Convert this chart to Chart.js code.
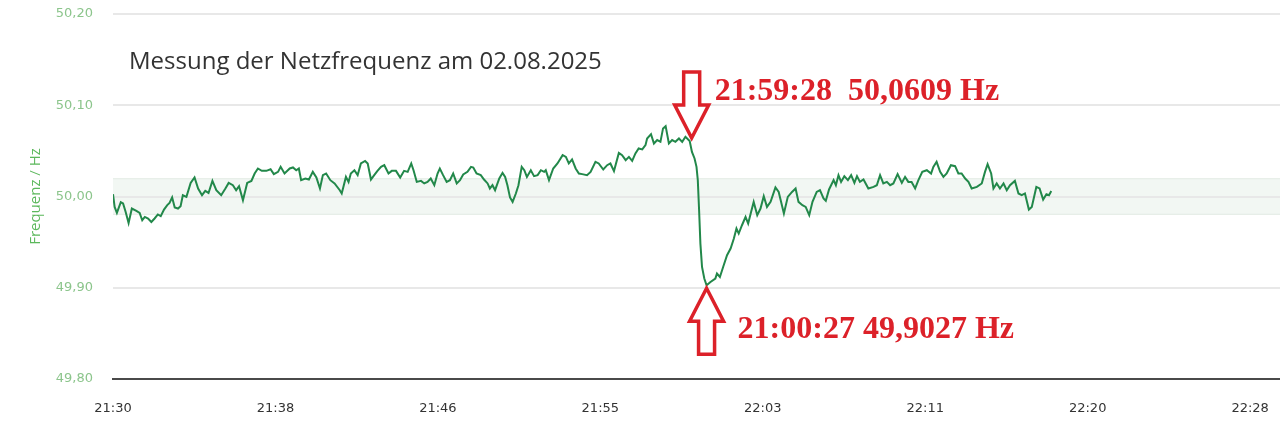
<!DOCTYPE html>
<html lang="de">
<head>
  <meta charset="utf-8">
  <title>Messung der Netzfrequenz am 02.08.2025</title>
  <script src="https://cdn.jsdelivr.net/npm/chart.js@4.4.1/dist/chart.umd.min.js"></script>
  <style>
    html, body { margin: 0; padding: 0; background: #fff; overflow: hidden; }
  </style>
</head>
<body>
  <canvas id="chart-freq" width="1280" height="424"></canvas>

  <script>
    // Sekunden seit 21:30:00
    var secs = [
      0, 5, 12, 24, 31, 39, 48, 58, 72, 82,
      90, 98, 108, 118, 128, 138, 147, 157, 167, 174,
      182, 190, 200, 208, 215, 226, 239, 251, 262, 274,
      284, 294, 306, 318, 333, 346, 356, 369, 379, 388,
      400, 413, 426, 436, 446, 458, 472, 485, 495, 508,
      516, 528, 544, 554, 564, 572, 579, 592, 603, 615,
      626, 637, 646, 656, 669, 682, 698, 704, 717, 725,
      732, 743, 753, 763, 776, 784, 794, 804, 814, 825,
      835, 848, 858, 871, 884, 896, 907, 918, 925, 935,
      948, 958, 968, 978, 989, 999, 1006, 1016, 1027, 1037,
      1047, 1058, 1068, 1078, 1091, 1102, 1109, 1119, 1132, 1142,
      1153, 1160, 1168, 1176, 1189, 1199, 1207, 1214, 1222, 1230,
      1240, 1248, 1258, 1266, 1274, 1286, 1296, 1307, 1317, 1327,
      1332, 1342, 1355, 1368, 1384, 1394, 1403, 1413, 1424, 1434,
      1444, 1459, 1470, 1485, 1495, 1509, 1521, 1531, 1542, 1557,
      1567, 1578, 1588, 1598, 1608, 1618, 1629, 1639, 1644, 1656,
      1665, 1675, 1685, 1693, 1701, 1711, 1721, 1731, 1742, 1752,
      1762, 1775, 1782, 1790, 1796, 1800, 1804, 1808, 1813, 1820,
      1827, 1839, 1854, 1859, 1868, 1878, 1890, 1901, 1911, 1919,
      1926, 1936, 1947, 1955, 1964, 1972, 1983, 1993, 2003, 2013,
      2024, 2039, 2049, 2065, 2077, 2090, 2101, 2110, 2122, 2132,
      2143, 2153, 2166, 2176, 2187, 2194, 2204, 2218, 2225, 2233,
      2241, 2251, 2262, 2272, 2282, 2290, 2299, 2310, 2325, 2341,
      2351, 2361, 2371, 2382, 2392, 2402, 2415, 2428, 2438, 2448,
      2458, 2469, 2479, 2491, 2505, 2518, 2525, 2535, 2546, 2556,
      2566, 2579, 2592, 2602, 2612, 2623, 2633, 2643, 2659, 2674,
      2684, 2692, 2703, 2710, 2720, 2730, 2741, 2751, 2761, 2776,
      2787, 2797, 2807, 2819, 2828, 2842, 2852, 2863, 2873, 2881, 2888
    ];

    // Frequenz in Hz
    var freqs = [
      50.0025, 49.9886, 49.9820, 49.9937, 49.9923, 49.9831, 49.9710, 49.9868, 49.9842, 49.9820,
      49.9740, 49.9776, 49.9759, 49.9721, 49.9759, 49.9803, 49.9784, 49.9857, 49.9905, 49.9930,
      49.9989, 49.9879, 49.9868, 49.9894, 50.0014, 49.9996, 50.0149, 50.0208, 50.0088, 50.0014,
      50.0061, 50.0039, 50.0171, 50.0069, 50.0014, 50.0088, 50.0149, 50.0124, 50.0069, 50.0113,
      49.9959, 50.0149, 50.0171, 50.0252, 50.0307, 50.0281, 50.0281, 50.0299, 50.0245, 50.0270,
      50.0325, 50.0252, 50.0307, 50.0318, 50.0288, 50.0307, 50.0179, 50.0197, 50.0186, 50.0270,
      50.0208, 50.0088, 50.0234, 50.0252, 50.0179, 50.0143, 50.0069, 50.0033, 50.0215, 50.0160,
      50.0252, 50.0288, 50.0234, 50.0362, 50.0390, 50.0362, 50.0186, 50.0234, 50.0281, 50.0325,
      50.0343, 50.0252, 50.0281, 50.0281, 50.0208, 50.0281, 50.0270, 50.0362, 50.0288, 50.0160,
      50.0171, 50.0143, 50.0160, 50.0197, 50.0124, 50.0252, 50.0307, 50.0234, 50.0160, 50.0179,
      50.0252, 50.0143, 50.0179, 50.0241, 50.0270, 50.0325, 50.0318, 50.0252, 50.0234, 50.0186,
      50.0143, 50.0088, 50.0124, 50.0069, 50.0197, 50.0259, 50.0215, 50.0124, 49.9989, 49.9941,
      50.0033, 50.0124, 50.0325, 50.0288, 50.0215, 50.0288, 50.0223, 50.0234, 50.0288, 50.0270,
      50.0288, 50.0179, 50.0307, 50.0362, 50.0453, 50.0434, 50.0362, 50.0406, 50.0307, 50.0252,
      50.0245, 50.0234, 50.0270, 50.0380, 50.0362, 50.0296, 50.0343, 50.0362, 50.0278, 50.0478,
      50.0453, 50.0398, 50.0434, 50.0390, 50.0472, 50.0526, 50.0516, 50.0563, 50.0636, 50.0683,
      50.0581, 50.0618, 50.0599, 50.0746, 50.0771, 50.0581, 50.0618, 50.0599, 50.0636, 50.0599,
      50.0654, 50.0609, 50.0489, 50.0417, 50.0325, 50.0179, 49.9850, 49.9484, 49.9228, 49.9101,
      49.9027, 49.9063, 49.9101, 49.9155, 49.9118, 49.9228, 49.9356, 49.9430, 49.9539, 49.9649,
      49.9594, 49.9685, 49.9776, 49.9704, 49.9831, 49.9941, 49.9795, 49.9868, 50.0003, 49.9886,
      49.9941, 50.0099, 50.0050, 49.9814, 49.9996, 50.0050, 50.0088, 49.9941, 49.9905, 49.9886,
      49.9795, 49.9941, 50.0050, 50.0069, 49.9978, 49.9952, 50.0077, 50.0179, 50.0124, 50.0234,
      50.0160, 50.0223, 50.0179, 50.0234, 50.0149, 50.0223, 50.0160, 50.0186, 50.0088, 50.0105,
      50.0124, 50.0234, 50.0143, 50.0160, 50.0124, 50.0143, 50.0245, 50.0149, 50.0215, 50.0160,
      50.0160, 50.0088, 50.0179, 50.0270, 50.0288, 50.0252, 50.0325, 50.0380, 50.0270, 50.0215,
      50.0252, 50.0343, 50.0332, 50.0252, 50.0252, 50.0197, 50.0160, 50.0088, 50.0105, 50.0143,
      50.0270, 50.0354, 50.0252, 50.0088, 50.0143, 50.0088, 50.0143, 50.0069, 50.0124, 50.0171,
      50.0033, 50.0014, 50.0033, 49.9857, 49.9886, 50.0105, 50.0088, 49.9967, 50.0025, 50.0014, 50.0061
    ];

    var xTickSecs = [0, 500, 1000, 1500, 2000, 2500, 3000, 3500];
    var xTickLabels = ['21:30', '21:38', '21:46', '21:55', '22:03', '22:11', '22:20', '22:28'];
    var yTicks = [49.8, 49.9, 50.0, 50.1, 50.2];

    // Toleranzband
    var bandLow = 49.98;
    var bandHigh = 50.02;

    // markierte Punkte
    var markSecs = [1775, 1827];
    var markFreqs = [50.0609, 49.9027];
    var markTexts = ['21:59:28  50,0609 Hz', '21:00:27 49,9027 Hz'];

    var chartTitle = 'Messung der Netzfrequenz am 02.08.2025';
    var red = '#dc2129';

    var bandPlugin = {
      id: 'band',
      beforeDraw: function (chart) {
        var ctx = chart.ctx, a = chart.chartArea, y = chart.scales.y;
        var top = y.getPixelForValue(bandHigh), bot = y.getPixelForValue(bandLow);
        ctx.save();
        ctx.fillStyle = '#f2f7f3';
        ctx.fillRect(a.left, top, a.right - a.left, bot - top);
        ctx.strokeStyle = '#e3ebe5';
        ctx.lineWidth = 1;
        ctx.beginPath();
        ctx.moveTo(a.left, top + 0.5); ctx.lineTo(a.right, top + 0.5);
        ctx.moveTo(a.left, bot - 0.5); ctx.lineTo(a.right, bot - 0.5);
        ctx.stroke();
        ctx.restore();
      }
    };

    function drawArrow(ctx, tx, ty, dir) {
      // dir 1 = nach unten zeigend, -1 = nach oben
      var headW = 34, headH = 33, shaftW = 16, shaftL = 33;
      var yBase = ty - dir * headH;
      var yEnd = yBase - dir * shaftL;
      ctx.save();
      ctx.beginPath();
      ctx.moveTo(tx, ty);
      ctx.lineTo(tx - headW / 2, yBase);
      ctx.lineTo(tx - shaftW / 2, yBase);
      ctx.lineTo(tx - shaftW / 2, yEnd);
      ctx.lineTo(tx + shaftW / 2, yEnd);
      ctx.lineTo(tx + shaftW / 2, yBase);
      ctx.lineTo(tx + headW / 2, yBase);
      ctx.closePath();
      ctx.fillStyle = '#fff';
      ctx.fill();
      ctx.lineWidth = 3.5;
      ctx.strokeStyle = red;
      ctx.lineJoin = 'miter';
      ctx.stroke();
      ctx.restore();
    }

    var notePlugin = {
      id: 'notes',
      afterDraw: function (chart) {
        var ctx = chart.ctx, x = chart.scales.x, y = chart.scales.y;
        ctx.save();
        // Titel
        ctx.font = '24px "Open Sans", sans-serif';
        ctx.fillStyle = '#333';
        ctx.textAlign = 'left';
        ctx.textBaseline = 'alphabetic';
        ctx.fillText(chartTitle, 129, 69);

        ctx.font = 'bold 32px "Liberation Serif", "Times New Roman", serif';
        ctx.fillStyle = red;

        // Maximum vor dem Einbruch
        var px = x.getPixelForValue(markSecs[0]), py = y.getPixelForValue(markFreqs[0]);
        drawArrow(ctx, px + 2, py - 3, 1);
        ctx.fillText(markTexts[0], px + 25, py - 41);

        // Minimum
        px = x.getPixelForValue(markSecs[1]); py = y.getPixelForValue(markFreqs[1]);
        drawArrow(ctx, px, py + 3, -1);
        ctx.fillText(markTexts[1], px + 31, py + 53);
        ctx.restore();
      }
    };

    var points = secs.map(function (s, i) { return { x: s, y: freqs[i] }; });

    new Chart(document.getElementById('chart-freq'), {
      type: 'line',
      data: {
        datasets: [{
          data: points,
          borderColor: '#22884a',
          borderWidth: 2,
          pointRadius: 0,
          tension: 0,
          fill: false
        }]
      },
      options: {
        responsive: false,
        animation: false,
        layout: { padding: { left: 26, top: 14, right: 0, bottom: 0 } },
        plugins: {
          legend: { display: false },
          tooltip: { enabled: false }
        },
        scales: {
          x: {
            type: 'linear',
            min: 0,
            max: 3592,
            afterBuildTicks: function (s) { s.ticks = xTickSecs.map(function (v) { return { value: v }; }); },
            afterFit: function (s) { s.height = 45; s.paddingLeft = 0; s.paddingRight = 0; },
            grid: { display: false, drawTicks: false },
            border: { display: true, color: '#4a4a4a', width: 2 },
            ticks: {
              padding: 22,
              color: '#333',
              maxRotation: 0,
              autoSkip: false,
              font: { family: 'DejaVu Sans', size: 13 },
              callback: function (v, i) { return xTickLabels[i]; }
            }
          },
          y: {
            min: 49.8,
            max: 50.2,
            afterBuildTicks: function (s) { s.ticks = yTicks.map(function (v) { return { value: v }; }); },
            afterFit: function (s) { s.width = 87; s.paddingTop = 0; s.paddingBottom = 0; },
            grid: { color: '#e8e8e8', lineWidth: 2, drawTicks: false },
            border: { display: false },
            ticks: {
              padding: 20,
              color: '#8cc58c',
              font: { family: 'DejaVu Sans', size: 13 },
              callback: function (v) { return v.toFixed(2).replace('.', ','); }
            },
            title: {
              display: true,
              text: 'Frequenz / Hz',
              color: '#5cb85c',
              padding: { top: 1, bottom: 0 },
              font: { family: 'Open Sans', size: 15 }
            }
          }
        }
      },
      plugins: [bandPlugin, notePlugin]
    });
  </script>
</body>
</html>
